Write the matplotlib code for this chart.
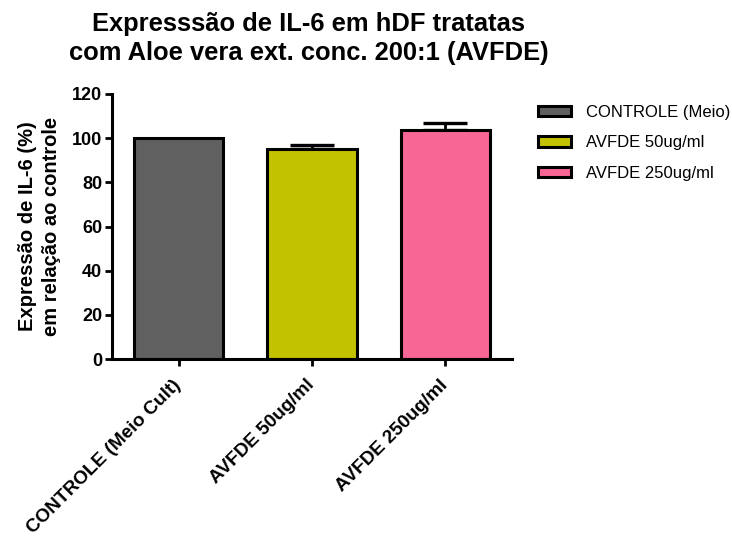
import matplotlib
matplotlib.use("Agg")
import matplotlib.pyplot as plt

groups = ["CONTROLE (Meio Cult)", "AVFDE 50ug/ml", "AVFDE 250ug/ml"]
legend_labels = ["CONTROLE (Meio)", "AVFDE 50ug/ml", "AVFDE 250ug/ml"]
means = [100.0, 95.3, 103.6]
sem = [0.0, 1.5, 3.4]
colors = ["#606060", "#C2C200", "#F76694"]

plt.rcParams["font.family"] = ["Liberation Sans", "DejaVu Sans"]

fig = plt.figure(figsize=(7.32, 5.38), dpi=100)
ax = fig.add_axes([112 / 732, 1 - 359 / 538, 400 / 732, 265 / 538])

x = list(range(len(groups)))
bars = ax.bar(x, means, width=0.67, color=colors, edgecolor="black",
              linewidth=2.2, zorder=2)

# upper error bars only, skip groups with no spread
ex = [xi for xi, s in zip(x, sem) if s > 0]
ey = [m for m, s in zip(means, sem) if s > 0]
es = [s for s in sem if s > 0]
ax.errorbar(ex, ey, yerr=[[0] * len(es), es], fmt="none", ecolor="black",
            elinewidth=2, capsize=16, capthick=2.4, zorder=1)

ax.set_xlim(-0.5, 2.5)
ax.set_ylim(0, 120)
ax.set_yticks(range(0, 121, 20))
ax.set_xticks(x)
ax.set_xticklabels(groups, rotation=45, ha="right", va="center",
                   rotation_mode="anchor", fontsize=13.7, fontweight="bold")
for lab in ax.get_yticklabels():
    lab.set_fontweight("bold")
    lab.set_fontsize(13)

for side in ("top", "right"):
    ax.spines[side].set_visible(False)
for side in ("left", "bottom"):
    ax.spines[side].set_linewidth(2.2)
ax.tick_params(axis="both", width=2, length=5, pad=2)
ax.tick_params(axis="x", pad=12)

ax.set_ylabel("Expressão de IL-6 (%)\nem relação ao controle",
              fontsize=14.5, fontweight="bold", labelpad=8, linespacing=1.3)

fig.text(0.422, 0.978, "Expresssão de IL-6 em hDF tratatas\ncom Aloe vera ext. conc. 200:1 (AVFDE)",
         ha="center", va="top", fontsize=18.4, fontweight="bold",
         linespacing=1.25)

handles = [bars[i] for i in range(len(bars))]
leg = fig.legend(handles, legend_labels, loc="upper left",
                 bbox_to_anchor=(523 / 732, 1 - 90 / 538), frameon=False,
                 fontsize=12, handlelength=2.0, handleheight=0.6,
                 labelspacing=0.92, handletextpad=0.85)

fig.savefig("out.png", dpi=100, facecolor="white")
